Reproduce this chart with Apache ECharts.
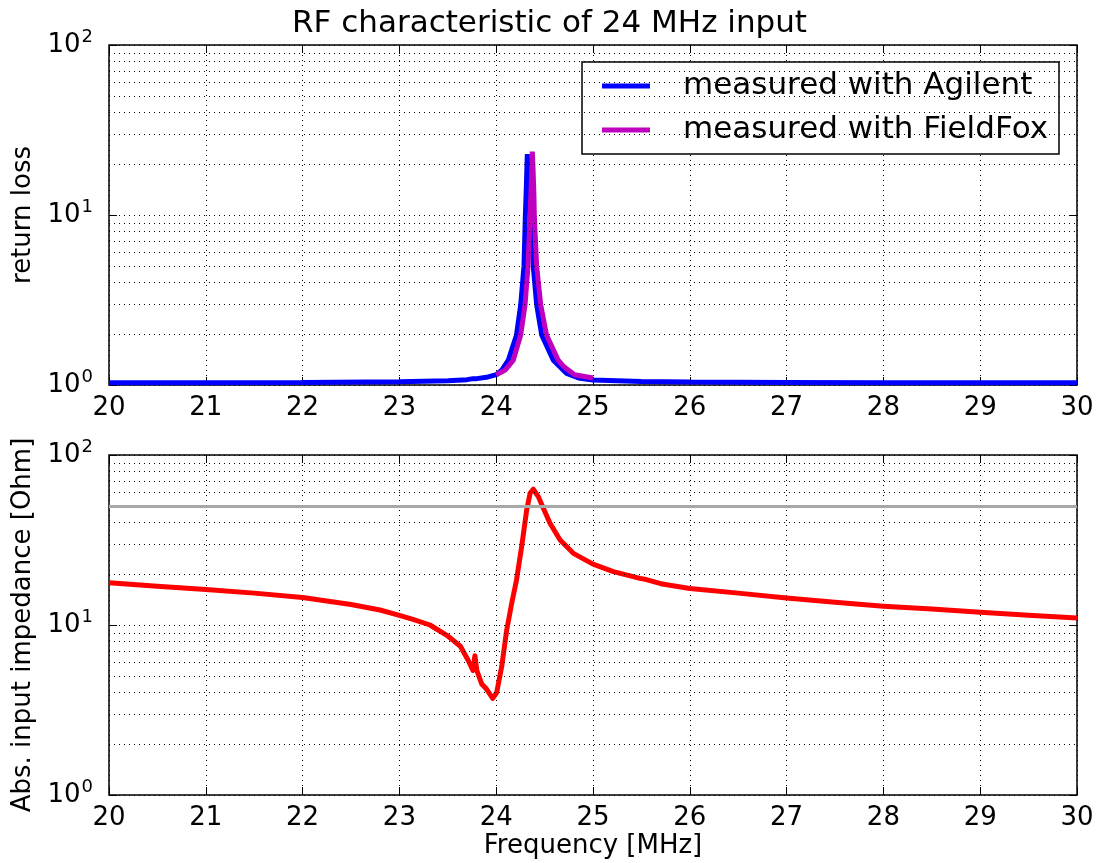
<!DOCTYPE html>
<html>
<head>
<meta charset="utf-8">
<script src="https://cdn.jsdelivr.net/npm/echarts@6/dist/echarts.min.js"></script>
<style>
  html, body { margin: 0; padding: 0; background: #fff; }
  #chart { width: 1099px; height: 863px; }
</style>
</head>
<body>
<div id="chart"></div>
<script>
// return loss, Agilent
var agilentFreq = [20, 21, 22, 23, 23.5, 23.7, 23.76, 23.78, 23.8, 23.9, 24.0, 24.057, 24.125, 24.21, 24.253, 24.287, 24.301, 24.312, 24.321,
    24.327, 24.34, 24.355, 24.367, 24.383, 24.418, 24.47, 24.59, 24.728, 24.85, 25.0, 25.5, 26, 27, 28, 29, 30];
var agilentLoss = [1.03, 1.03, 1.035, 1.045, 1.06, 1.075, 1.09, 1.11, 1.09, 1.11, 1.15, 1.22, 1.40, 1.97, 2.96, 5.0, 9.8, 15, 22.8,
    19, 14, 11.5, 9.8, 5.0, 2.96, 1.97, 1.40, 1.17, 1.1, 1.07, 1.05, 1.04, 1.035, 1.03, 1.03, 1.03];
// return loss, FieldFox (only 24-25 MHz)
var foxFreq = [24.0, 24.09, 24.177, 24.253, 24.298, 24.329, 24.349, 24.362, 24.373, 24.38, 24.39, 24.394, 24.418, 24.46, 24.52,
    24.64, 24.66, 24.67, 24.7, 24.81, 25.0];
var foxLoss = [1.15, 1.22, 1.40, 1.97, 2.96, 5.0, 9.8, 15, 23.6, 19, 13, 9.8, 5.0, 2.96, 1.97,
    1.40, 1.36, 1.37, 1.28, 1.15, 1.1];
// abs. input impedance
var impFreq = [20, 20.5, 21, 21.5, 22, 22.5, 22.8, 23.0, 23.14, 23.316, 23.49, 23.63, 23.71, 23.76, 23.78, 23.8, 23.85, 23.9, 23.964,
    24.005, 24.057, 24.108, 24.16, 24.21, 24.263, 24.315, 24.35, 24.383, 24.435, 24.487, 24.556, 24.66, 24.797, 25.0, 25.21,
    25.485, 25.55, 25.7, 26, 26.5, 27, 27.5, 28, 28.5, 29, 29.5, 30];
var impVal = [17.7, 16.9, 16.2, 15.4, 14.5, 13.2, 12.25, 11.4, 10.8, 10.0, 8.7, 7.5, 6.2, 5.4, 6.6, 5.4, 4.5, 4.2, 3.7,
    4.0, 5.7, 9.3, 13.4, 18.4, 28.9, 47.5, 59.5, 62.9, 56.9, 48.6, 39.7, 31.6, 26.4, 22.8, 20.6,
    18.8, 18.5, 17.5, 16.4, 15.4, 14.4, 13.6, 12.9, 12.4, 11.9, 11.4, 11.0];
var refImpedance = 50;
var xTicks = [20, 30, 1];   // min, max, interval
var yRange = [1, 100];

function zip(xs, ys) {
    return xs.map(function (x, i) { return [x, ys[i]]; });
}

// minor log grid lines 2..9, 20..90
var minorLines = [];
for (var d = 1; d < yRange[1]; d *= 10) {
    for (var k = 2; k <= 9; k++) minorLines.push({ yAxis: k * d });
}

var FONT = 'DejaVu Sans';
var grids = [
    { left: 109, top: 45, width: 968, height: 340 },
    { left: 109, top: 455, width: 968, height: 340 }
];

var xAxes = [], yAxes = [];
[0, 1].forEach(function (g) {
    xAxes.push({
        type: 'value', gridIndex: g, min: xTicks[0], max: xTicks[1], interval: xTicks[2],
        name: g === 1 ? 'Frequency [MHz]' : '', nameLocation: 'middle', nameGap: 38,
        nameTextStyle: { fontFamily: FONT, fontSize: 26, color: '#000' },
        axisLine: { show: false },
        axisTick: { show: true, inside: true, length: 8, lineStyle: { color: '#000' } },
        axisLabel: { fontFamily: FONT, fontSize: 26, color: '#000', margin: 10 },
        splitLine: { show: true, lineStyle: { color: '#000', type: [1, 4], width: 1 } }
    });
    yAxes.push({
        type: 'log', logBase: 10, gridIndex: g, min: yRange[0], max: yRange[1],
        name: g === 0 ? 'return loss' : 'Abs. input impedance [Ohm]',
        nameLocation: 'middle', nameRotate: 90, nameGap: 63,
        nameTextStyle: { fontFamily: FONT, fontSize: 26, color: '#000' },
        axisLine: { show: false },
        axisTick: { show: true, inside: true, length: 8, lineStyle: { color: '#000' } },
        axisLabel: {
            margin: 16,
            formatter: function (v) { return '{b|10}{s|' + Math.round(Math.log10(v)) + '}'; },
            rich: {
                b: { fontFamily: FONT, fontSize: 26, color: '#000' },
                s: { fontFamily: FONT, fontSize: 18, color: '#000', padding: [0, 0, 16, 1] }
            }
        },
        splitLine: { show: true, lineStyle: { color: '#000', type: [1, 4], width: 1 } }
    });
});
// top / right tick marks like matplotlib
[0, 1].forEach(function (g) {
    xAxes.push({
        type: 'value', gridIndex: g, position: 'top', min: xTicks[0], max: xTicks[1], interval: xTicks[2],
        axisLine: { show: false }, axisLabel: { show: false }, splitLine: { show: false },
        axisTick: { show: true, inside: true, length: 8, lineStyle: { color: '#000' } }
    });
    yAxes.push({
        type: 'log', logBase: 10, gridIndex: g, position: 'right', min: yRange[0], max: yRange[1],
        axisLine: { show: false }, axisLabel: { show: false }, splitLine: { show: false },
        axisTick: { show: true, inside: true, length: 8, lineStyle: { color: '#000' } }
    });
});

var gridLineStyle = { color: '#000', type: [1, 4], width: 1 };

var option = {
    backgroundColor: '#fff',
    animation: false,
    title: {
        text: 'RF characteristic of 24 MHz input',
        left: 'center', top: 3,
        textStyle: { fontFamily: FONT, fontSize: 31, fontWeight: 'normal', color: '#000' }
    },
    legend: {
        data: ['measured with Agilent', 'measured with FieldFox'],
        orient: 'vertical', left: 582, top: 62,
        backgroundColor: '#fff', borderColor: '#000', borderWidth: 1.5, borderRadius: 0,
        padding: [6, 11, 6, 20], itemGap: 8,
        icon: 'rect', itemWidth: 48, itemHeight: 5,
        textStyle: { fontFamily: FONT, fontSize: 31, color: '#000', lineHeight: 36, padding: [0, 0, 0, 28] }
    },
    grid: grids.map(function (g) {
        return Object.assign({ show: true, borderColor: '#000', borderWidth: 1.5, backgroundColor: 'transparent' }, g);
    }),
    xAxis: xAxes,
    yAxis: yAxes,
    series: [
        {
            name: 'minor0', type: 'line', xAxisIndex: 0, yAxisIndex: 0, data: [], z: 1, silent: true,
            markLine: { silent: true, symbol: 'none', label: { show: false }, lineStyle: gridLineStyle, data: minorLines }
        },
        {
            name: 'minor1', type: 'line', xAxisIndex: 1, yAxisIndex: 1, data: [], z: 1, silent: true,
            markLine: {
                silent: true, symbol: 'none', label: { show: false }, lineStyle: gridLineStyle,
                data: minorLines.concat([{ yAxis: refImpedance, lineStyle: { color: '#a8a8a8', type: 'solid', width: 3 } }])
            }
        },
        {
            name: 'measured with Agilent', type: 'line', xAxisIndex: 0, yAxisIndex: 0,
            data: zip(agilentFreq, agilentLoss), showSymbol: false, symbol: 'none',
            lineStyle: { color: '#0000ff', width: 5 }, itemStyle: { color: '#0000ff' }
        },
        {
            name: 'measured with FieldFox', type: 'line', xAxisIndex: 0, yAxisIndex: 0,
            data: zip(foxFreq, foxLoss), showSymbol: false, symbol: 'none',
            lineStyle: { color: '#bf00bf', width: 5 }, itemStyle: { color: '#bf00bf' }
        },
        {
            name: 'impedance', type: 'line', xAxisIndex: 1, yAxisIndex: 1,
            data: zip(impFreq, impVal), showSymbol: false, symbol: 'none',
            lineStyle: { color: '#ff0000', width: 5, join: 'round' }, itemStyle: { color: '#ff0000' }
        }
    ]
};

var myChart = echarts.init(document.getElementById('chart'));
myChart.setOption(option);
window.addEventListener('resize', function () {
    myChart.resize();
});
</script>
</body>
</html>
